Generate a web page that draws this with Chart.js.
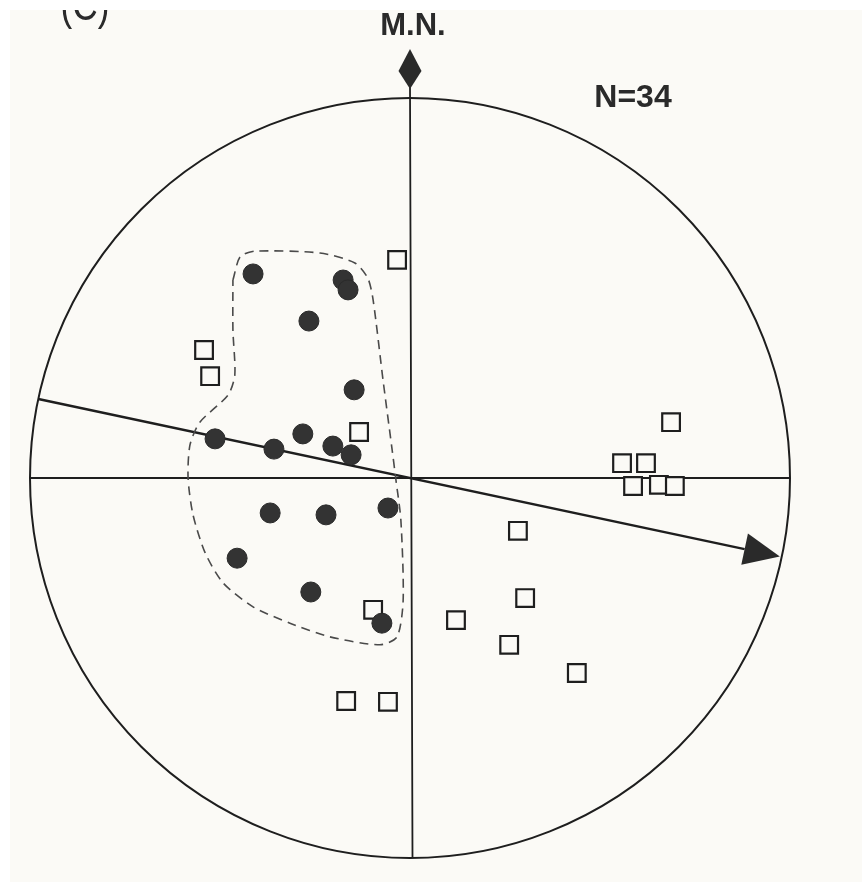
<!DOCTYPE html>
<html>
<head>
<meta charset="utf-8">
<script src="https://cdn.jsdelivr.net/npm/chart.js@4/dist/chart.umd.min.js"></script>
<style>
  html, body { margin: 0; padding: 0; background: #fbfaf6; }
  #wrap { position: relative; width: 862px; height: 882px; }
</style>
</head>
<body>
<div id="wrap"><canvas id="net" width="862" height="882"></canvas></div>
<script>
// poles, unit-circle coordinates (x = east, y = north)
const filledX = [-0.413, -0.176, -0.163, -0.266, -0.147, -0.513, -0.358, -0.282, -0.203, -0.155, -0.368, -0.221, -0.058, -0.455, -0.261, -0.074];
const filledY = [0.537, 0.521, 0.495, 0.413, 0.232, 0.103, 0.076, 0.116, 0.084, 0.061, -0.092, -0.097, -0.079, -0.211, -0.300, -0.382];

const openX = [-0.034, -0.542, -0.526, -0.134, -0.097, 0.687, 0.558, 0.621, 0.587, 0.655, 0.697, 0.284, 0.303, 0.121, 0.261, 0.439, -0.168, -0.058];
const openY = [0.574, 0.337, 0.268, 0.121, -0.347, 0.147, 0.039, 0.039, -0.021, -0.018, -0.021, -0.139, -0.316, -0.374, -0.439, -0.513, -0.587, -0.589];

// dashed cluster outline
const outlineX = [-0.466, -0.447, -0.408, -0.237, -0.145, -0.111, -0.097, -0.071, -0.047, -0.037, -0.024, -0.018, -0.034, -0.079, -0.211, -0.316, -0.413, -0.492, -0.539, -0.571, -0.584, -0.579, -0.553, -0.479, -0.461, -0.466, -0.466];
const outlineY = [0.521, 0.582, 0.597, 0.592, 0.566, 0.526, 0.468, 0.258, 0.074, -0.005, -0.111, -0.321, -0.418, -0.439, -0.418, -0.382, -0.339, -0.276, -0.197, -0.097, 0, 0.087, 0.147, 0.218, 0.271, 0.389, 0.521];

const trendAzimuth = 102; // degrees from M.N., clockwise
const countLabel = 'N=34';
const northLabel = 'M.N.';
const panelLabel = '(C)';

const toPts = (xs, ys) => xs.map((x, i) => ({ x: x, y: ys[i] }));

// 绘制网格、箭头和文字
const stereoPlugin = {
    id: 'stereo',
    beforeDatasetsDraw(chart) {
        const ctx = chart.ctx;
        const sx = chart.scales.x, sy = chart.scales.y;
        const cx = sx.getPixelForValue(0), cy = sy.getPixelForValue(0);
        const rx = sx.getPixelForValue(1) - cx;
        const ry = cy - sy.getPixelForValue(1);
        ctx.save();

        // scan border is whiter
        ctx.fillStyle = '#ffffff';
        ctx.fillRect(0, 0, chart.width, 10);
        ctx.fillRect(0, 0, 10, chart.height);

        ctx.strokeStyle = '#1e1e1e';
        ctx.lineWidth = 2;
        ctx.beginPath();
        ctx.ellipse(cx, cy, rx, ry, 0, 0, Math.PI * 2);
        ctx.stroke();

        // cross
        ctx.lineWidth = 1.8;
        ctx.beginPath();
        ctx.moveTo(cx - rx, cy); ctx.lineTo(cx + rx, cy);
        ctx.moveTo(cx, sy.getPixelForValue(1.03)); ctx.lineTo(cx + 2.5, cy + ry);
        ctx.stroke();

        // north diamond
        const dTop = 49, dBot = 89, dMid = 71;
        ctx.fillStyle = '#2a2a2a';
        ctx.beginPath();
        ctx.moveTo(cx, dTop);
        ctx.lineTo(cx + 11.5, dMid);
        ctx.lineTo(cx, dBot);
        ctx.lineTo(cx - 11.5, dMid);
        ctx.closePath();
        ctx.fill();

        // trend arrow
        const a = trendAzimuth * Math.PI / 180;
        const ex = Math.sin(a), ey = Math.cos(a);
        const x0 = sx.getPixelForValue(-ex), y0 = sy.getPixelForValue(-ey);
        const x1 = sx.getPixelForValue(ex * 0.995), y1 = sy.getPixelForValue(ey * 0.995);
        const ang = Math.atan2(y1 - y0, x1 - x0);
        const hl = 36, hw = 16;
        const bx = x1 - hl * Math.cos(ang), by = y1 - hl * Math.sin(ang);
        ctx.lineWidth = 2.4;
        ctx.beginPath();
        ctx.moveTo(x0, y0); ctx.lineTo(bx, by);
        ctx.stroke();
        ctx.beginPath();
        ctx.moveTo(x1, y1);
        ctx.lineTo(bx - hw * Math.sin(ang), by + hw * Math.cos(ang));
        ctx.lineTo(bx + hw * Math.sin(ang), by - hw * Math.cos(ang));
        ctx.closePath();
        ctx.fill();

        // labels
        ctx.fillStyle = '#2a2a2a';
        ctx.font = 'bold 31px "Liberation Sans", Arial, sans-serif';
        ctx.textAlign = 'center';
        ctx.textBaseline = 'alphabetic';
        ctx.fillText(northLabel, cx + 3, 35);
        ctx.font = 'bold 32px "Liberation Sans", Arial, sans-serif';
        ctx.fillText(countLabel, 633, 107);

        // panel label, cut off by the top strip
        ctx.save();
        ctx.beginPath();
        ctx.rect(10, 10, 200, 40);
        ctx.clip();
        ctx.translate(85, 20);
        ctx.scale(0.8, 1);
        ctx.font = '44px "Liberation Sans", Arial, sans-serif';
        ctx.fillText(panelLabel, 0, 0);
        ctx.restore();
        ctx.restore();
    }
};

document.addEventListener('DOMContentLoaded', () => {
    const ctx = document.getElementById('net').getContext('2d');
    new Chart(ctx, {
        type: 'scatter',
        data: {
            datasets: [
                {
                    label: 'outline',
                    data: toPts(outlineX, outlineY),
                    showLine: true,
                    borderColor: '#4a4a4a',
                    borderWidth: 1.6,
                    borderDash: [9, 6],
                    tension: 0.25,
                    pointRadius: 0,
                    order: 2
                },
                {
                    label: 'open',
                    data: toPts(openX, openY),
                    pointStyle: 'rect',
                    pointRadius: 12.5,
                    backgroundColor: '#fbfaf6',
                    borderColor: '#1e1e1e',
                    borderWidth: 2.2,
                    order: 1
                },
                {
                    label: 'filled',
                    data: toPts(filledX, filledY),
                    pointStyle: 'circle',
                    pointRadius: 10,
                    backgroundColor: '#333',
                    borderColor: '#2a2a2a',
                    borderWidth: 1,
                    order: 0
                }
            ]
        },
        options: {
            responsive: false,
            animation: false,
            layout: { padding: { left: 30, right: 72, top: 98, bottom: 24 } },
            scales: {
                x: { type: 'linear', min: -1, max: 1, display: false },
                y: { type: 'linear', min: -1, max: 1, display: false }
            },
            plugins: {
                legend: { display: false },
                tooltip: { enabled: false }
            }
        },
        plugins: [stereoPlugin]
    });
});
</script>
</body>
</html>
